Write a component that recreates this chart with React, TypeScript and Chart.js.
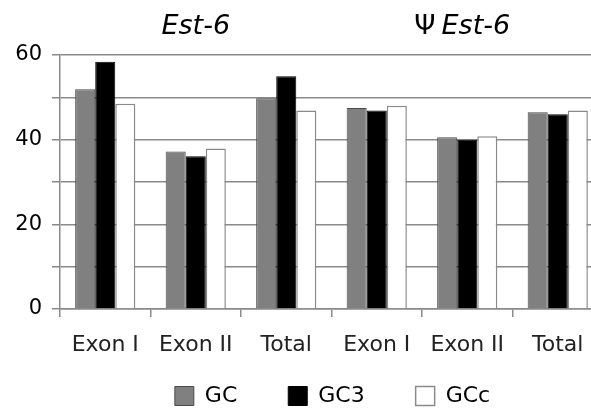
import React, { useEffect, useRef } from "react";
import { Chart, registerables } from "chart.js";

Chart.register(...registerables);

const categories = ["Exon I", "Exon II", "Total", "Exon I", "Exon II", "Total"];
const gcValues = [51.9, 37.2, 49.8, 47.5, 40.6, 46.5];
const gc3Values = [58.4, 36.1, 55.0, 46.9, 40.0, 46.0];
const gccValues = [48.5, 37.9, 46.9, 48.0, 40.8, 46.9];
const groupTitles = ["Est-6", "Est-6"];
const groupPrefix = ["", "\u03A8"];

const FONT = "'DejaVu Sans', Verdana, sans-serif";
const LINE = "#8a8a8a";
const LEGEND_PAD = 51;

const titlePlugin = {
  id: "groupTitles",
  afterDraw(chart: any) {
    const ctx = chart.ctx;
    const x = chart.scales.x;
    const centers = [x.getPixelForValue(1), x.getPixelForValue(4) - 5];
    ctx.save();
    ctx.fillStyle = "#000";
    ctx.textBaseline = "alphabetic";
    groupTitles.forEach((t, i) => {
      ctx.font = `italic 27px ${FONT}`;
      const wT = ctx.measureText(t).width;
      const pre = groupPrefix[i];
      ctx.font = `27px ${FONT}`;
      const wP = pre ? ctx.measureText(pre).width + 6 : 0;
      const total = wT + wP;
      let start = centers[i] - total / 2;
      ctx.textAlign = "left";
      if (pre) {
        ctx.font = `27px ${FONT}`;
        ctx.fillText(pre, start, 34);
        start += wP;
      }
      ctx.font = `italic 27px ${FONT}`;
      ctx.fillText(t, start, 34);
    });
    ctx.restore();
  },
};

const legendShift = {
  id: "legendShift",
  afterLayout(chart: any) {
    const l = chart.legend;
    if (!l) return;
    const top = 396 - 11 - LEGEND_PAD;
    l.top = top;
    l.bottom = top + LEGEND_PAD + 30;
    l.height = l.bottom - l.top;
    l.left += 31;
    l.right += 31;
  },
};

export default function App() {
  const ref = useRef<HTMLCanvasElement>(null);
  useEffect(() => {
    if (!ref.current) return;
    const chart = new Chart(ref.current, {
      type: "bar",
      data: {
        labels: categories,
        datasets: [
          { label: "GC", data: gcValues, backgroundColor: "#808080", borderColor: "#4a4a4a", borderWidth: 1 },
          { label: "GC3", data: gc3Values, backgroundColor: "#000000", borderColor: "#000000", borderWidth: 1 },
          { label: "GCc", data: gccValues, backgroundColor: "#ffffff", borderColor: "#8a8a8a", borderWidth: 1.5 },
        ],
      },
      options: {
        animation: false,
        responsive: false,
        maintainAspectRatio: false,
        layout: { padding: { top: 55, right: 0, left: 0, bottom: 24 } },
        datasets: { bar: { categoryPercentage: 0.665, barPercentage: 1 } },
        plugins: {
          title: { display: false },
          tooltip: { enabled: false },
          legend: {
            position: "bottom",
            align: "center",
            maxHeight: 20,
            labels: {
              font: { family: FONT, size: 22 },
              color: "#000",
              boxWidth: 19,
              boxHeight: 19,
              padding: LEGEND_PAD,
            },
          },
        },
        scales: {
          x: {
            offset: true,
            grid: { offset: true, drawOnChartArea: false, drawTicks: true, tickLength: 8, color: LINE, lineWidth: 1.5 },
            border: { display: true, color: LINE, width: 1.5 },
            ticks: { font: { family: FONT, size: 22 }, color: "#222", padding: 15, maxRotation: 0, autoSkip: false },
            afterFit: (s: any) => { s.height = 56; },
          },
          y: {
            min: 0,
            max: 60,
            grid: { color: LINE, lineWidth: 1.5, tickLength: 8 },
            border: { display: true, color: LINE, width: 1.5 },
            ticks: {
              stepSize: 10,
              font: { family: FONT, size: 21 },
              color: "#000",
              padding: 10,
              callback: (v: any) => (Number(v) % 20 === 0 ? String(v) : ""),
            },
            afterFit: (s: any) => { s.width = 60; },
          },
        },
      },
      plugins: [titlePlugin, legendShift],
    });
    return () => chart.destroy();
  }, []);
  return (
    <div style={{ position: "fixed", left: 0, top: 0, width: 591, height: 409, overflow: "hidden", background: "#fff" }}>
      <canvas ref={ref} width={603} height={409} style={{ width: 603, height: 409, display: "block" }} />
    </div>
  );
}
